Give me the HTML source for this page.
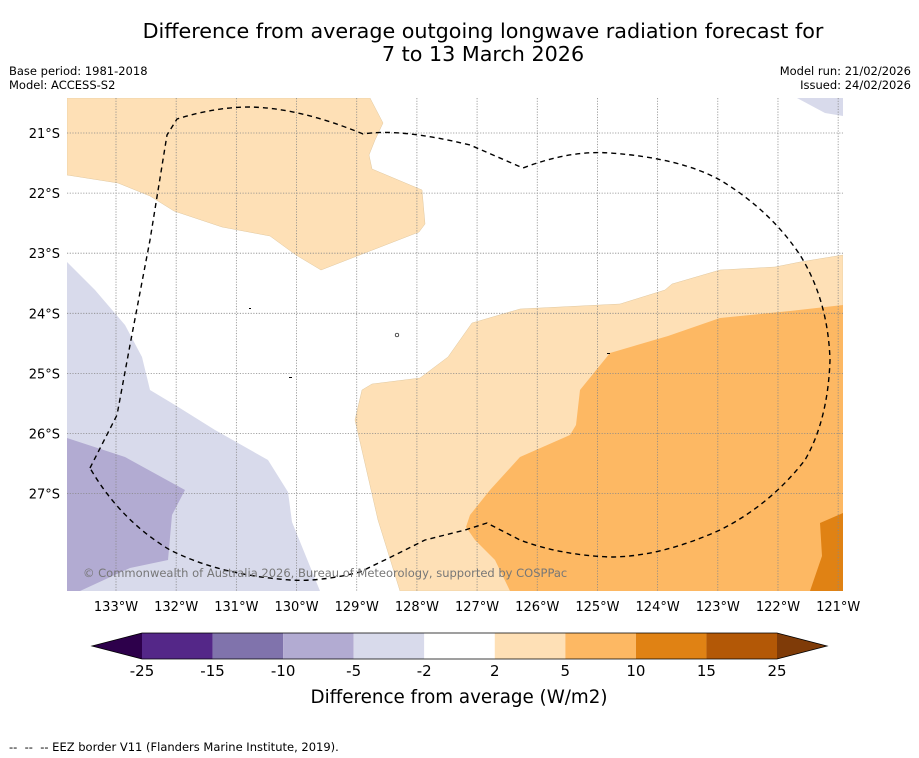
<!DOCTYPE html>
<html><head><meta charset="utf-8"><style>
body{margin:0;background:#fff;font-family:"DejaVu Sans","Liberation Sans",sans-serif;}
svg{display:block}
</style></head><body>
<svg id="s" width="919" height="758" xmlns="http://www.w3.org/2000/svg">
<rect width="919" height="758" fill="#fff"/>
<text x="483" y="38" text-anchor="middle" font-size="20.7">Difference from average outgoing longwave radiation forecast for</text>
<text x="483" y="61" text-anchor="middle" font-size="20.7">7 to 13 March 2026</text>
<text x="9" y="75" font-size="11.5">Base period: 1981-2018</text>
<text x="9" y="89" font-size="11.5">Model: ACCESS-S2</text>
<text x="911" y="75" font-size="11.5" text-anchor="end">Model run: 21/02/2026</text>
<text x="911" y="89" font-size="11.5" text-anchor="end">Issued: 24/02/2026</text>
<g>
<clipPath id="mc"><rect x="67" y="98" width="776" height="493"/></clipPath>
<g clip-path="url(#mc)">
<polygon fill="#fee0b6" stroke="#e0c8a0" stroke-width="0.5" points="67,98 370,98 383,123 375,140 369,155 372,169 422,190 425,224 419,232 321,270 296,255 270,236 222,227 174,211 150,196 118,183 67,175"/>
<polygon fill="#fee0b6" stroke="#e0c8a0" stroke-width="0.5" points="355,420 362,390 372,384 420,378 448,357 472,323 520,309 620,304 665,290 672,284 720,270 775,267 800,262 843,255 843,591 400,591 378,520"/>
<polygon fill="#fdb863" points="843,305 790,311 720,318 668,336 610,353 580,390 576,425 570,435 520,457 490,490 470,515 466,527 475,540 495,560 510,591 843,591"/>
<polygon fill="#e08214" points="820,523 843,513 843,591 810,591 822,556"/>
<polygon fill="#d8daeb" points="67,262 95,290 125,325 142,357 150,390 175,405 215,430 268,460 288,492 292,522 320,591 67,591"/>
<polygon fill="#b2abd2" points="67,438 125,457 185,490 172,515 168,560 130,568 80,591 67,591"/>
<polygon fill="#d8daeb" points="797,98 843,98 843,116 825,113"/>
<g id="grid" stroke="#888" stroke-width="0.8" stroke-dasharray="1.2,1.5"></g>
<path fill="none" stroke="#000" stroke-width="1.4" stroke-dasharray="5,4" stroke-linejoin="round" d="M90,468 L117,415 L130,345 L150,240 L167,135 L177,119 Q215,107 250,107 Q300,108 363,134 Q400,128 470,145 L523,168 Q570,150 610,153 Q680,158 720,180 Q770,210 800,255 Q828,300 830,360 Q828,420 805,460 Q770,505 720,530 Q660,557 610,557 Q560,555 520,540 L487,523 L465,530 L425,540 L395,555 L360,572 Q320,582 290,580 Q220,575 170,550 Q120,520 90,468"/>
<g fill="#000"><rect x="249" y="308" width="2" height="1"/><rect x="289" y="377" width="3" height="1"/><rect x="607" y="353" width="3" height="1"/><circle cx="397" cy="335" r="1.8" fill="none" stroke="#000" stroke-width="0.7"/></g>
<text x="83" y="577" font-size="11.5" fill="#777">© Commonwealth of Australia 2026, Bureau of Meteorology, supported by COSPPac</text>
</g>
<g id="ticks" font-size="13"></g>
</g>
<g id="cbar"></g>
<text x="459" y="703" font-size="18.3" text-anchor="middle">Difference from average (W/m2)</text>
<text x="9" y="751" font-size="11.5" xml:space="preserve" style="white-space:pre">--  --  -- EEZ border V11 (Flanders Marine Institute, 2019).</text>
</svg>
<script>
const lons=[-133,-132,-131,-130,-129,-128,-127,-126,-125,-124,-123,-122,-121];
const lats=[-21,-22,-23,-24,-25,-26,-27];
const lonLabels=["133°W","132°W","131°W","130°W","129°W","128°W","127°W","126°W","125°W","124°W","123°W","122°W","121°W"];
const latLabels=["21°S","22°S","23°S","24°S","25°S","26°S","27°S"];
const bounds=[-25,-15,-10,-5,-2,2,5,10,15,25];
const binColors=["#542788","#8073ac","#b2abd2","#d8daeb","#ffffff","#fee0b6","#fdb863","#e08214","#b35806"];
const extColors=["#2d004b","#7f3b08"];
const NS="http://www.w3.org/2000/svg";
const xLon=l=>116+(l+133)*60.18;
const yLat=l=>133+(-21-l)*60.1;
function mk(t,a,p){const e=document.createElementNS(NS,t);for(const k in a)e.setAttribute(k,a[k]);p.appendChild(e);return e;}
const grid=document.getElementById('grid'),ticks=document.getElementById('ticks');
lons.forEach((l,i)=>{const x=xLon(l);
 const g=mk('line',{x1:x,x2:x,y1:98,y2:591},grid);
 
 
 const t=mk('text',{x:x,y:611,'text-anchor':'middle'},ticks);t.textContent=lonLabels[i];
 
 });
lats.forEach((l,i)=>{const y=yLat(l);
 const g=mk('line',{x1:67,x2:843,y1:y,y2:y},grid);
 
 
 const t=mk('text',{x:60,y:y+5,'text-anchor':'end'},ticks);t.textContent=latLabels[i];
 
 });
const cb=document.getElementById('cbar');
const n=bounds.length-1, x0=142, x1=777, w=(x1-x0)/n, cy0=633, cy1=659;
for(let i=0;i<n;i++){const r=mk('rect',{x:x0+i*w,y:cy0,width:w,height:cy1-cy0,fill:binColors[i]},cb);
 
 }
const lt=mk('polygon',{points:`${x0},${cy0} ${x0},${cy1} 92,${(cy0+cy1)/2}`,fill:extColors[0]},cb);


const rt=mk('polygon',{points:`${x1},${cy0} ${x1},${cy1} 827,${(cy0+cy1)/2}`,fill:extColors[1]},cb);


mk('polygon',{points:`92,${(cy0+cy1)/2} ${x0},${cy0} ${x1},${cy0} 827,${(cy0+cy1)/2} ${x1},${cy1} ${x0},${cy1}`,fill:'none',stroke:'#000','stroke-width':0.8},cb);
bounds.forEach((b,i)=>{const t=mk('text',{x:x0+i*w,y:676,'text-anchor':'middle','font-size':15},cb);t.textContent=b;
 
 });
</script>
</body></html>
